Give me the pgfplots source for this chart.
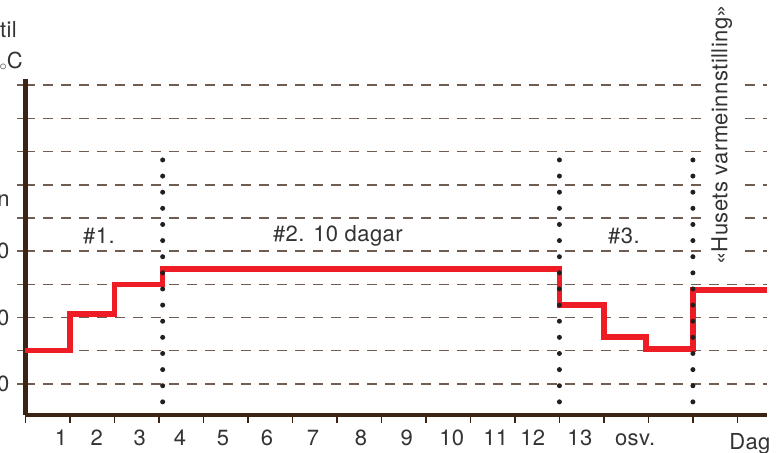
\documentclass[border=0pt]{standalone}
\usepackage{pgfplots}
\pgfplotsset{compat=1.18}
\usepackage{fontspec}
\setmainfont{TeX Gyre Heros}[LetterSpace=2]
\definecolor{axisc}{HTML}{3C2415}
\definecolor{gridc}{HTML}{6E5D50}
\definecolor{redc}{HTML}{EE1C25}
\definecolor{txt}{HTML}{333333}
\definecolor{dotc}{HTML}{231F20}
\newcommand{\lbl}{\fontsize{22bp}{26bp}\selectfont}
\begin{document}
\begin{tikzpicture}
\begin{axis}[
  x=44.5bp, y=33.2bp,
  xmin=0, xmax=16.66, ymin=0.06, ymax=10.2,
  enlargelimits=false,
  clip=false,
  axis x line=bottom, axis y line=left,
  axis line style={-, line width=4.5bp, color=axisc},
  xtick={0,...,16}, xticklabels={},
  ytick={1,...,10}, yticklabels={},
  tick align=outside,
  x tick style={line width=1.3bp, color=axisc},
  y tick style={line width=1.5bp, color=gridc},
  major tick length=8bp,
  ymajorgrids,
  grid style={line width=1.5bp, color=gridc, dash pattern=on 10bp off 8bp},
  extra x ticks={0.8,1.6,2.57,3.47,4.44,5.43,6.46,7.54,8.57,9.58,10.57,11.4,12.46,13.7},
  extra x tick labels={1,2,3,4,5,6,7,8,9,10,11,12,13,osv.},
  extra x tick style={major tick length=0pt},
  xticklabel style={anchor=base, yshift=-30bp},
  every tick label/.append style={font=\lbl, text=txt},
]
% red step line
\addplot[redc, line width=5.5bp, const plot, line join=miter] coordinates {
  (0,2.0) (1,3.1) (2,4.0) (3.083,4.46) (12,3.38) (13,2.42) (13.95,2.05) (15,3.83) (16.66,3.83)
};
% dotted vertical lines
\addplot[dotc, line width=5bp, line cap=round, dash pattern=on 0bp off 16.13bp] coordinates {(3.083,0.46) (3.083,7.78)};
\addplot[dotc, line width=5bp, line cap=round, dash pattern=on 0bp off 16.13bp] coordinates {(12,0.46) (12,7.78)};
\addplot[dotc, line width=5bp, line cap=round, dash pattern=on 0bp off 16.13bp] coordinates {(15,0.46) (15,7.78)};
% texts
\node[font=\lbl, text=txt] at (axis cs:1.65,5.45) {\#1.};
\node[font=\lbl, text=txt] at (axis cs:7.02,5.45) {\#2. 10 dagar};
\node[font=\lbl, text=txt] at (axis cs:13.45,5.45) {\#3.};
\node[rotate=90, fill=white, inner sep=5bp, font=\lbl, text=txt] at (axis cs:15.65,8.5) {«Husets varmeinnstilling»};
\node[font=\lbl, text=txt, anchor=base] at (axis cs:16.28,-0.99) {Dag};
% cut-off y-axis texts at the left edge
\node[font=\lbl, text=txt, anchor=east, inner sep=0pt] at (axis cs:-0.36,5) {30};
\node[font=\lbl, text=txt, anchor=east, inner sep=0pt] at (axis cs:-0.36,3) {20};
\node[font=\lbl, text=txt, anchor=east, inner sep=0pt] at (axis cs:-0.36,1) {10};
\node[font=\lbl, text=txt, anchor=east, inner sep=0pt] at (axis cs:-0.35,6.51) {n};
\node[font=\lbl, text=txt, anchor=base east, inner sep=0pt] at (axis cs:-0.19,11.45) {til};
\node[font=\lbl, text=txt, anchor=base east, inner sep=0pt] at (axis cs:-0.056,10.49) {\raisebox{-0.1ex}{$\scriptstyle\circ$}C};
\coordinate (BB1) at (axis cs:-0.573,-1.078);
\coordinate (BB2) at (axis cs:16.98,12.566);
\end{axis}
\pgfresetboundingbox
\path[use as bounding box] (BB1) rectangle (BB2);
\end{tikzpicture}
\end{document}
